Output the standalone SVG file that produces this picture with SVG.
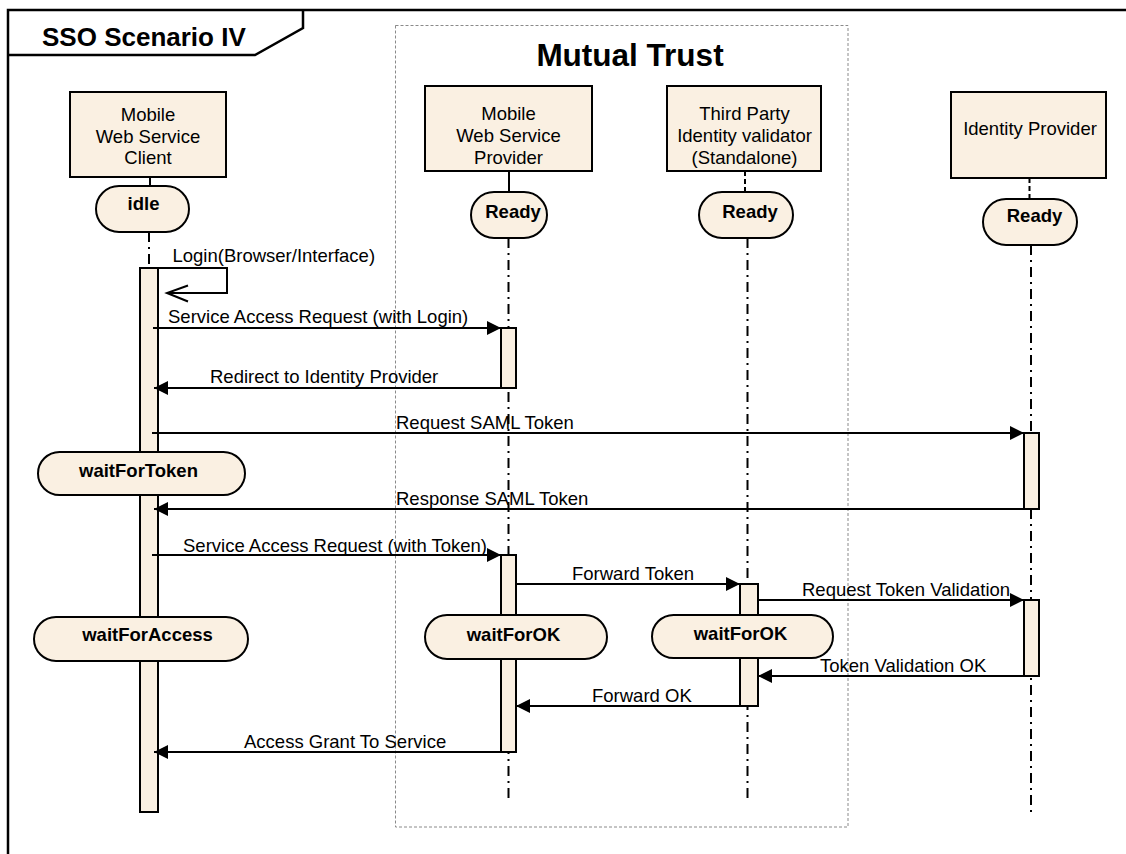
<svg xmlns="http://www.w3.org/2000/svg" width="1126" height="854" viewBox="0 0 1126 854">
  <defs>
    <marker id="arrow" viewBox="0 0 14 14" refX="14" refY="7" markerWidth="14" markerHeight="14" markerUnits="userSpaceOnUse" orient="auto">
      <path d="M0,0 L14,7 L0,14 z" fill="#000"/>
    </marker>
    <style>
      text { font-family: "Liberation Sans", Arial, sans-serif; fill: #000; }
      .lbl { font-size: 18.5px; }
      .ctr { text-anchor: middle; }
      .bold { font-weight: bold; }
      .box { fill: #FAF0E2; stroke: #000; stroke-width: 2; }
      .bar { fill: #FAF0E2; stroke: #000; stroke-width: 2; }
      .state { fill: #FAF0E2; stroke: #000; stroke-width: 2; }
      .life { stroke: #000; stroke-width: 2; stroke-dasharray: 10 5 2 5; fill: none; }
      .link { stroke: #000; stroke-width: 2; fill: none; }
      .dlink { stroke: #000; stroke-width: 2; stroke-dasharray: 5 3; fill: none; }
      .msg { stroke: #000; stroke-width: 2; fill: none; marker-end: url(#arrow); }
    </style>
  </defs>

  <rect width="1126" height="854" fill="#fff"/>

  <!-- sequence frame with title tab -->
  <g id="frame">
    <rect x="8" y="10" width="1130" height="860" fill="none" stroke="#000" stroke-width="2.5"/>
    <path d="M8,55 L255,55 L303,28 L303,10" fill="none" stroke="#000" stroke-width="2.5"/>
    <text x="42" y="46" class="bold" font-size="26">SSO Scenario IV</text>
  </g>

  <!-- trust boundary -->
  <g id="mutual-trust">
    <rect x="395.5" y="25.5" width="452.5" height="801.5" fill="none" stroke="#8a8a8a" stroke-width="1" stroke-dasharray="3 2"/>
    <text x="630" y="66" class="bold ctr" font-size="31.5">Mutual Trust</text>
  </g>

  <!-- lifelines -->
  <g id="lifelines">
    <line class="life" x1="149" y1="232" x2="149" y2="268"/>
    <line class="life" x1="508.5" y1="238" x2="508.5" y2="802"/>
    <line class="life" x1="747.5" y1="238" x2="747.5" y2="802"/>
    <line class="life" x1="1031" y1="245" x2="1031" y2="813"/>
  </g>

  <!-- participants -->
  <g id="client">
    <line class="link" x1="150" y1="177" x2="150" y2="186"/>
    <rect class="box" x="70" y="92" width="156" height="85"/>
    <text class="lbl ctr" x="148" y="121">Mobile</text>
    <text class="lbl ctr" x="148" y="142.5">Web Service</text>
    <text class="lbl ctr" x="148" y="164">Client</text>
  </g>
  <g id="provider">
    <line class="link" x1="509" y1="171" x2="509" y2="192"/>
    <rect class="box" x="425" y="86" width="167" height="85"/>
    <text class="lbl ctr" x="508.5" y="119.5">Mobile</text>
    <text class="lbl ctr" x="508.5" y="141.5">Web Service</text>
    <text class="lbl ctr" x="508.5" y="163.5">Provider</text>
  </g>
  <g id="validator">
    <line class="dlink" x1="745" y1="171" x2="745" y2="192"/>
    <rect class="box" x="667" y="86" width="154" height="85"/>
    <text class="lbl ctr" x="744.5" y="119.5">Third Party</text>
    <text class="lbl ctr" x="744.5" y="141.5">Identity validator</text>
    <text class="lbl ctr" x="744.5" y="163.5">(Standalone)</text>
  </g>
  <g id="identity-provider">
    <line class="dlink" x1="1029.5" y1="178" x2="1029.5" y2="199"/>
    <rect class="box" x="951" y="92" width="155" height="86"/>
    <text class="lbl ctr" x="1030" y="135">Identity Provider</text>
  </g>

  <!-- activations -->
  <g id="activations">
    <rect class="bar" x="140" y="268" width="18" height="544"/>
    <rect class="bar" x="501" y="328" width="15" height="60"/>
    <rect class="bar" x="501" y="555" width="15" height="197"/>
    <rect class="bar" x="740" y="584" width="18" height="122"/>
    <rect class="bar" x="1024" y="433" width="15" height="76"/>
    <rect class="bar" x="1024" y="600" width="15" height="76"/>
  </g>

  <!-- states -->
  <g id="state-idle">
    <rect class="state" x="96" y="186" width="93" height="46" rx="23"/>
    <text class="lbl bold ctr" x="143.5" y="210">idle</text>
  </g>
  <g id="state-provider-ready">
    <rect class="state" x="471" y="192" width="76" height="46" rx="23"/>
    <text class="lbl bold ctr" x="513" y="218">Ready</text>
  </g>
  <g id="state-validator-ready">
    <rect class="state" x="699" y="192" width="94" height="46" rx="23"/>
    <text class="lbl bold ctr" x="750" y="218">Ready</text>
  </g>
  <g id="state-idp-ready">
    <rect class="state" x="983" y="199" width="94" height="46" rx="23"/>
    <text class="lbl bold ctr" x="1034.5" y="222">Ready</text>
  </g>
  <g id="state-wait-token">
    <rect class="state" x="38" y="452" width="207" height="43" rx="21.5"/>
    <text class="lbl bold ctr" x="138.5" y="477">waitForToken</text>
  </g>
  <g id="state-wait-access">
    <rect class="state" x="34" y="617" width="214" height="44" rx="22"/>
    <text class="lbl bold ctr" x="147.5" y="641">waitForAccess</text>
  </g>
  <g id="state-provider-wait">
    <rect class="state" x="425" y="615" width="182" height="44" rx="22"/>
    <text class="lbl bold ctr" x="513.5" y="641">waitForOK</text>
  </g>
  <g id="state-validator-wait">
    <rect class="state" x="652" y="615" width="181" height="43" rx="21.5"/>
    <text class="lbl bold ctr" x="740.5" y="640">waitForOK</text>
  </g>

  <!-- messages -->
  <g id="connectors">
    <polyline class="link" points="158,268 227,268 227,293 167,293"/>
    <polyline class="link" points="188,285.5 167,293 188,301.5"/>
    <text class="lbl" x="172.5" y="262">Login(Browser/Interface)</text>

    <line class="msg" x1="153" y1="328" x2="501" y2="328"/>
    <text class="lbl" x="168" y="323">Service Access Request (with Login)</text>

    <line class="msg" x1="501" y1="388" x2="154" y2="388"/>
    <text class="lbl" x="210" y="383">Redirect to Identity Provider</text>

    <line class="msg" x1="152" y1="433" x2="1024" y2="433"/>
    <text class="lbl" x="396" y="429">Request SAML Token</text>

    <line class="msg" x1="1024" y1="509" x2="154" y2="509"/>
    <text class="lbl" x="396" y="505">Response SAML Token</text>

    <line class="msg" x1="152" y1="555" x2="501" y2="555"/>
    <text class="lbl" x="183" y="551.5">Service Access Request (with Token)</text>

    <line class="msg" x1="516" y1="584" x2="740" y2="584"/>
    <text class="lbl" x="572" y="580">Forward Token</text>

    <line class="msg" x1="758" y1="600" x2="1024" y2="600"/>
    <text class="lbl" x="802" y="595.5">Request Token Validation</text>

    <line class="msg" x1="1024" y1="676" x2="758" y2="676"/>
    <text class="lbl" x="820" y="671.5">Token Validation OK</text>

    <line class="msg" x1="740" y1="706" x2="516" y2="706"/>
    <text class="lbl" x="592" y="702">Forward OK</text>

    <line class="msg" x1="501" y1="752" x2="154" y2="752"/>
    <text class="lbl" x="244" y="748">Access Grant To Service</text>
  </g>
</svg>
